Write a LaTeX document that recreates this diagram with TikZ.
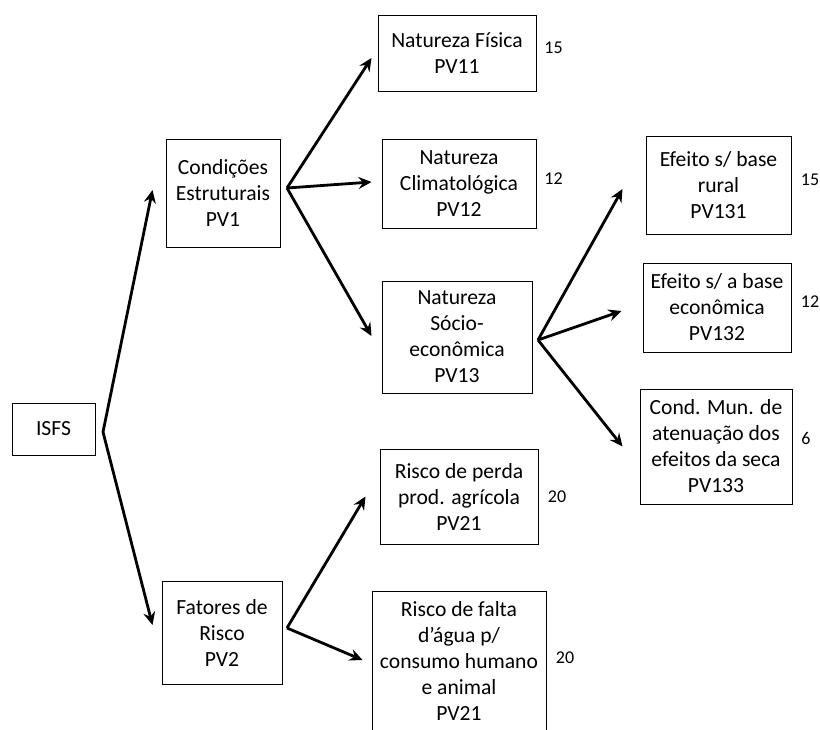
\documentclass[tikz,border=0pt]{standalone}
\usepackage{fontspec}
\setmainfont{Carlito}
\usetikzlibrary{arrows.meta}
\begin{document}
\begin{tikzpicture}[x=1pt,y=1pt,
  box/.style={draw=black,line width=1pt,inner sep=0pt,align=center,font=\fontsize{21.6}{26}\selectfont},
  num/.style={inner sep=0pt,font=\fontsize{18}{22}\selectfont},
  arr/.style={line width=2.8pt,-{Stealth[length=13pt,width=12pt,inset=4.5pt]}}]
\fill[white] (0,0) rectangle (820,-729);
\useasboundingbox (0,0) rectangle (820,-729);
% boxes
\node[box,minimum width=83pt,minimum height=52pt] (isfs) at (53.5,-429) {ISFS};
\node[box,minimum width=114pt,minimum height=108pt] (c1) at (223,-193) {Condições\\Estruturais\\PV1};
\node[box,minimum width=120pt,minimum height=103pt] (f2) at (222,-632.5) {Fatores de\\Risco\\PV2};
\node[box,minimum width=158pt,minimum height=76pt] (n11) at (457,-53) {Natureza Física\\PV11};
\node[box,minimum width=154pt,minimum height=89pt] (n12) at (459,-183.5) {Natureza\\Climatológica\\PV12};
\node[box,minimum width=150pt,minimum height=112pt] (n13) at (457,-337) {Natureza\\Sócio-\\econômica\\PV13};
\node[box,minimum width=158pt,minimum height=95pt] (r21) at (459,-496.5) {Risco de perda\\prod. agrícola\\PV21};
\node[box,minimum width=174pt,minimum height=140pt] (r22) at (459,-661) {Risco de falta\\d’água p/\\consumo humano\\e animal\\PV21};
\node[box,minimum width=145pt,minimum height=98pt] (e131) at (718.5,-185) {Efeito s/ base\\rural\\PV131};
\node[box,minimum width=148pt,minimum height=89pt] (e132) at (717,-307.5) {Efeito s/ a base\\econômica\\PV132};
\node[box,minimum width=152pt,minimum height=115pt] (e133) at (716,-446.5) {Cond. Mun. de\\atenuação dos\\efeitos da seca\\PV133};
% numbers
\node[num] (w11) at (553.5,-48) {15};
\node[num] (w12) at (553.5,-179) {12};
\node[num] (w131) at (810,-180) {15};
\node[num] (w132) at (810,-302) {12};
\node[num] (w133) at (806,-438) {6};
\node[num] (w21) at (557,-497) {20};
\node[num] (w22) at (565,-658) {20};
% fork points
\coordinate (fa) at (103,-432);
\coordinate (fb) at (287,-188);
\coordinate (fc) at (287,-628);
\coordinate (fd) at (538,-340);
% connectors
\draw[arr] (fa) -- ([shift={(-13,3)}]c1.west);
\draw[arr] (fa) -- ([shift={(-9,7.5)}]f2.west);
\draw[arr] (fb) -- ([shift={(-6,-5)}]n11.west);
\draw[arr] (fb) -- ([shift={(-10,1.5)}]n12.west);
\draw[arr] (fb) -- ([shift={(-10,1)}]n13.west);
\draw[arr] (fc) -- ([shift={(-14,0)}]r21.west);
\draw[arr] (fc) -- ([shift={(-9,1)}]r22.west);
\draw[arr] (fd) -- ([shift={(-23,-4)}]e131.west);
\draw[arr] (fd) -- ([shift={(-21,-3.5)}]e132.west);
\draw[arr] (fd) -- ([shift={(-17,0)}]e133.west);
\end{tikzpicture}
\end{document}
